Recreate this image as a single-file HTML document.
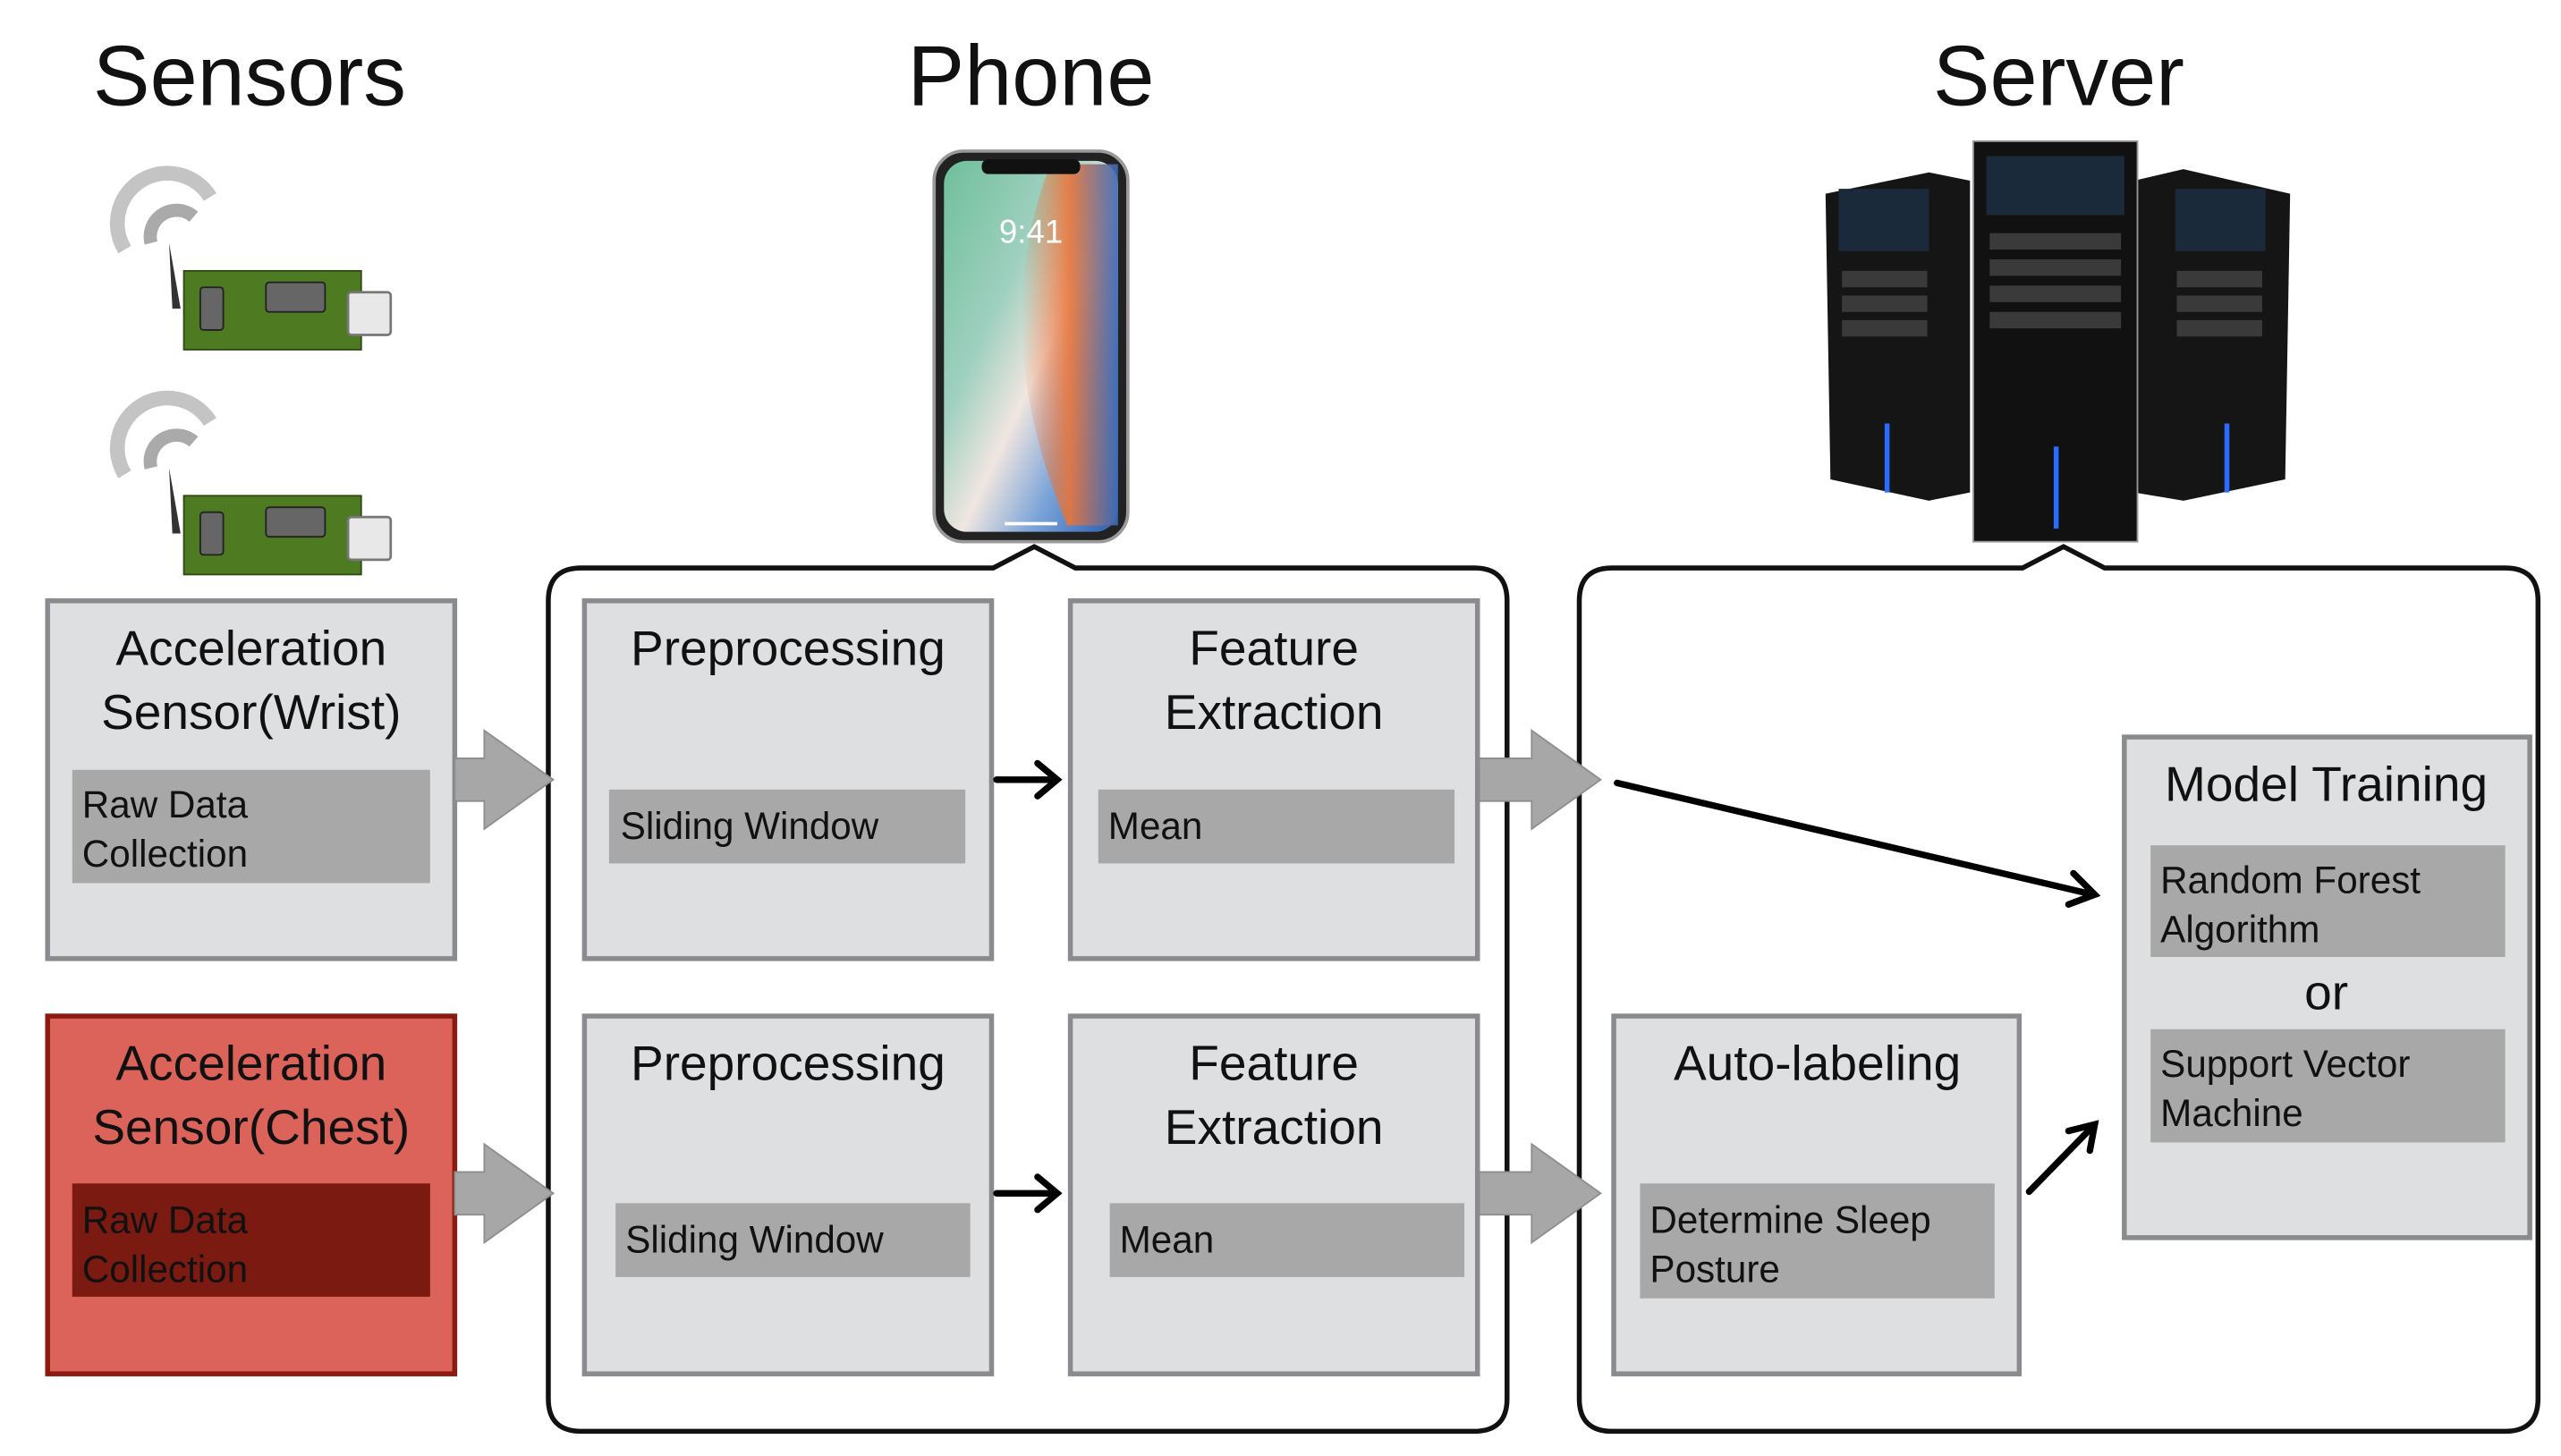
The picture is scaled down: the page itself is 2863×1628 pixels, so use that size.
<!DOCTYPE html>
<html><head><meta charset="utf-8"><style>html,body{margin:0;padding:0;background:#fff}svg{display:block}</style></head>
<body>
<svg width="2863" height="1628" viewBox="0 0 1560 887" xmlns="http://www.w3.org/2000/svg" font-family="Liberation Sans, sans-serif">
<defs>
<linearGradient id="scr" x1="0" y1="0" x2="1" y2="1">
<stop offset="0" stop-color="#6fbf9a"/><stop offset="0.35" stop-color="#9fd0c0"/><stop offset="0.55" stop-color="#f0e6e0"/><stop offset="0.75" stop-color="#7aa3d8"/><stop offset="1" stop-color="#2a5db0"/>
</linearGradient>
<linearGradient id="org" x1="0" y1="0" x2="1" y2="0"><stop offset="0" stop-color="#e8743a" stop-opacity="0"/><stop offset="0.5" stop-color="#e8743a"/><stop offset="1" stop-color="#3a6ab8"/></linearGradient>
<g id="sensor">
<path d="M76 152 A30 30 0 0 1 128 120" fill="none" stroke="#c4c4c4" stroke-width="9"/>
<path d="M92 148 A16 16 0 0 1 118 132" fill="none" stroke="#aaa" stroke-width="8"/>
<path d="M103 148 L105 188 L110 188 Z" fill="#333"/>
<rect x="112" y="165" width="108" height="48" fill="#4e7a22" stroke="#2e4a12" stroke-width="1"/>
<rect x="122" y="175" width="14" height="26" rx="2" fill="#666" stroke="#222"/>
<rect x="162" y="172" width="36" height="18" rx="2" fill="#666" stroke="#222"/>
<rect x="212" y="178" width="26" height="26" rx="2" fill="#e8e8e8" stroke="#777" stroke-width="1.5"/>
</g>
</defs>

<text x="152" y="64" font-size="52" text-anchor="middle" fill="#111">Sensors</text>
<text x="628" y="64" font-size="52" text-anchor="middle" fill="#111">Phone</text>
<text x="1254" y="64" font-size="52" text-anchor="middle" fill="#111">Server</text>

<use href="#sensor"/>
<use href="#sensor" y="137"/>

<rect x="569" y="92" width="118" height="238" rx="18" fill="#222" stroke="#999" stroke-width="2"/>
<rect x="575" y="98" width="106" height="226" rx="14" fill="url(#scr)"/>
<path d="M640 100 Q600 200 650 320 L681 320 L681 100 Z" fill="url(#org)" opacity="0.9"/>
<rect x="598" y="97" width="60" height="9" rx="4" fill="#111"/>
<text x="628" y="148" font-size="20" text-anchor="middle" fill="#fff">9:41</text>
<rect x="612" y="318" width="32" height="2" fill="#fff"/>

<path d="M1112 118 L1175 105 L1200 110 L1200 300 L1175 305 L1115 292 Z" fill="#151515"/>
<path d="M1300 110 L1330 103 L1395 118 L1392 292 L1330 305 L1300 300 Z" fill="#151515"/>
<rect x="1202" y="86" width="100" height="244" fill="#111" stroke="#999" stroke-width="1"/>
<rect x="1210" y="95" width="84" height="36" fill="#1a2a3a"/>
<rect x="1120" y="115" width="55" height="38" fill="#1a2a3a"/>
<rect x="1325" y="115" width="55" height="38" fill="#1a2a3a"/>
<g fill="#3a3a3a"><rect x="1212" y="142" width="80" height="10"/><rect x="1212" y="158" width="80" height="10"/><rect x="1212" y="174" width="80" height="10"/><rect x="1212" y="190" width="80" height="10"/>
<rect x="1122" y="165" width="52" height="10"/><rect x="1122" y="180" width="52" height="10"/><rect x="1122" y="195" width="52" height="10"/>
<rect x="1326" y="165" width="52" height="10"/><rect x="1326" y="180" width="52" height="10"/><rect x="1326" y="195" width="52" height="10"/></g>
<g fill="#2a6cff"><rect x="1251" y="272" width="3" height="50"/><rect x="1148" y="258" width="3" height="42"/><rect x="1355" y="258" width="3" height="42"/></g>

<path d="M354 346 L605 346 L630 333 L655 346 L898 346 Q918 346 918 366 L918 852 Q918 872 898 872 L354 872 Q334 872 334 852 L334 366 Q334 346 354 346 Z" fill="#fff" stroke="#111" stroke-width="3"/>
<path d="M982 346 L1232 346 L1257 333 L1282 346 L1526 346 Q1546 346 1546 366 L1546 852 Q1546 872 1526 872 L982 872 Q962 872 962 852 L962 366 Q962 346 982 346 Z" fill="#fff" stroke="#111" stroke-width="3"/>

<rect x="29" y="366" width="248" height="218" fill="#dedfe0" stroke="#8a8b8e" stroke-width="3"/>
<text x="153" y="405" font-size="30" text-anchor="middle" fill="#111">Acceleration</text>
<text x="153" y="444" font-size="30" text-anchor="middle" fill="#111">Sensor(Wrist)</text>
<rect x="44" y="469" width="218" height="69" fill="#a7a8a7"/>
<text x="50" y="498" font-size="23" fill="#111">Raw Data</text>
<text x="50" y="528" font-size="23" fill="#111">Collection</text>

<rect x="29" y="619" width="248" height="218" fill="#dc635a" stroke="#8b1a10" stroke-width="3"/>
<text x="153" y="658" font-size="30" text-anchor="middle" fill="#111">Acceleration</text>
<text x="153" y="697" font-size="30" text-anchor="middle" fill="#111">Sensor(Chest)</text>
<rect x="44" y="721" width="218" height="69" fill="#7a1a10"/>
<text x="50" y="751" font-size="23" fill="#111">Raw Data</text>
<text x="50" y="781" font-size="23" fill="#111">Collection</text>

<g fill="#a6a7a6" stroke="#8d8e8d" stroke-width="1">
<path d="M277 462 L295 462 L295 445 L337 475 L295 505 L295 488 L277 488 Z"/>
<path d="M277 714 L295 714 L295 697 L337 727 L295 757 L295 740 L277 740 Z"/>
<path d="M900 462 L933 462 L933 445 L975 475 L933 505 L933 488 L900 488 Z"/>
<path d="M900 714 L933 714 L933 697 L975 727 L933 757 L933 740 L900 740 Z"/>
</g>

<g fill="#dedfe0" stroke="#8a8b8e" stroke-width="3">
<rect x="356" y="366" width="248" height="218"/><rect x="652" y="366" width="248" height="218"/>
<rect x="356" y="619" width="248" height="218"/><rect x="652" y="619" width="248" height="218"/>
<rect x="983" y="619" width="247" height="218"/><rect x="1294" y="449" width="247" height="305"/>
</g>
<g fill="#a7a8a7">
<rect x="371" y="481" width="217" height="45"/><rect x="669" y="481" width="217" height="45"/>
<rect x="375" y="733" width="216" height="45"/><rect x="676" y="733" width="216" height="45"/>
<rect x="999" y="721" width="216" height="70"/>
<rect x="1310" y="515" width="216" height="68"/><rect x="1310" y="627" width="216" height="69"/>
</g>
<g font-size="30" text-anchor="middle" fill="#111">
<text x="480" y="405">Preprocessing</text>
<text x="776" y="405">Feature</text><text x="776" y="444">Extraction</text>
<text x="480" y="658">Preprocessing</text>
<text x="776" y="658">Feature</text><text x="776" y="697">Extraction</text>
<text x="1107" y="658">Auto-labeling</text>
<text x="1417" y="488">Model Training</text>
<text x="1417" y="615">or</text>
</g>
<g font-size="23" fill="#111">
<text x="378" y="511">Sliding Window</text>
<text x="675" y="511">Mean</text>
<text x="381" y="763">Sliding Window</text>
<text x="682" y="763">Mean</text>
<text x="1005" y="751">Determine Sleep</text><text x="1005" y="781">Posture</text>
<text x="1316" y="544">Random Forest</text><text x="1316" y="574">Algorithm</text>
<text x="1316" y="656">Support Vector</text><text x="1316" y="686">Machine</text>
</g>

<g stroke="#000" stroke-width="4" fill="none" stroke-linecap="round">
<line x1="607" y1="475" x2="643" y2="475"/><path d="M632 465 L644 475 L632 485"/>
<line x1="607" y1="727" x2="643" y2="727"/><path d="M632 717 L644 727 L632 737"/>
<line x1="985" y1="477" x2="1275" y2="545"/><path d="M1263 532 L1276 545 L1260 551"/>
<line x1="1236" y1="726" x2="1275" y2="686"/><path d="M1260 689 L1276 685 L1273 701"/>
</g>
</svg>
</body></html>
